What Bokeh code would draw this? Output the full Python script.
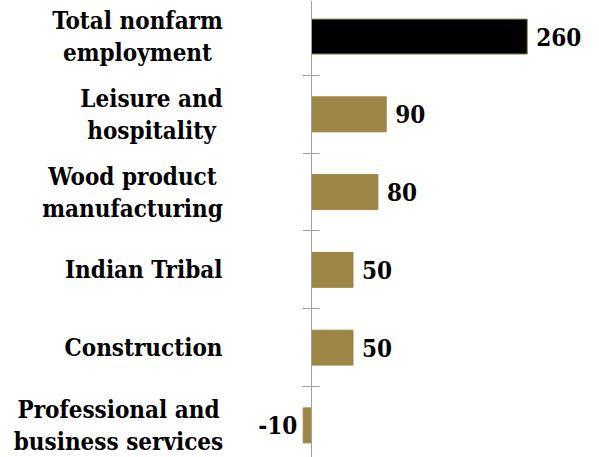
from bokeh.plotting import figure
from bokeh.models import ColumnDataSource, LinearAxis, FixedTicker, Range1d
from bokeh.core.properties import value
from bokeh.embed import file_html
from bokeh.resources import INLINE

# ---- data ----
categories = [
    "Total nonfarm\nemployment",
    "Leisure and\nhospitality",
    "Wood product\nmanufacturing",
    "Indian Tribal",
    "Construction",
    "Professional and\nbusiness services",
]
values = [260, 90, 80, 50, 50, -10]
value_labels = ["260", "90", "80", "50", "50", "-10"]

# ---- styling / layout ----
GOLD = "#9D8645"
FONT = "DejaVu Serif Condensed"
FSIZE = "24px"
STANDOFF = 89              # px between axis line and right edge of category labels
block_px = [170, 142, 180, 0, 0, 208]   # rendered width of the longest line of each label

n = len(categories)
ypos = [n - 1 - i for i in range(n)]
colors = ["#000000"] + [GOLD] * (n - 1)
aligns = ["left" if v >= 0 else "right" for v in values]
offsets = [9 if v >= 0 else -6 for v in values]

src = ColumnDataSource(dict(y=ypos, v=values, lab=value_labels, color=colors,
                            align=aligns, off=offsets))

multi = ["\n" in c for c in categories]
cat_src = ColumnDataSource(dict(
    x=[0] * n, y=ypos, text=categories,
    align=["center" if m else "right" for m in multi],
    off=[-(STANDOFF + w / 2) if m else -STANDOFF for m, w in zip(multi, block_px)],
))

p = figure(width=599, height=457, output_backend="svg", toolbar_location=None,
           x_range=Range1d(-374.7, 347), y_range=Range1d(-0.413, 5.464),
           x_axis_location=None, y_axis_location=None, min_border=0)
p.outline_line_color = None
p.xgrid.visible = False
p.ygrid.visible = False

p.hbar(y="y", right="v", left=0, height=0.45, source=src, fill_color="color",
       line_color=GOLD, line_width=1)

# value labels
p.text(x="v", y="y", text="lab", source=src, text_align="align", x_offset="off",
       text_baseline="middle", text_font=value(FONT), text_font_style="bold",
       text_font_size=FSIZE, text_color="#000000")

# category labels
p.text(x="x", y="y", text="text", source=cat_src, text_align="align", x_offset="off",
       text_baseline="middle", text_font=value(FONT), text_font_style="bold",
       text_font_size=FSIZE, text_color="#000000", text_line_height=1.11)

# axis line at zero with ticks on category boundaries
tick_axis = LinearAxis(fixed_location=0,
                       ticker=FixedTicker(ticks=[i + 0.5 for i in range(n - 1)]),
                       major_label_text_font_size="0px", major_tick_out=9, major_tick_in=8,
                       major_tick_line_color="#A0A0A0", minor_tick_line_color=None,
                       axis_line_color="#A0A0A0")
p.add_layout(tick_axis, "left")

open("out.html", "w").write(file_html(p, INLINE))
